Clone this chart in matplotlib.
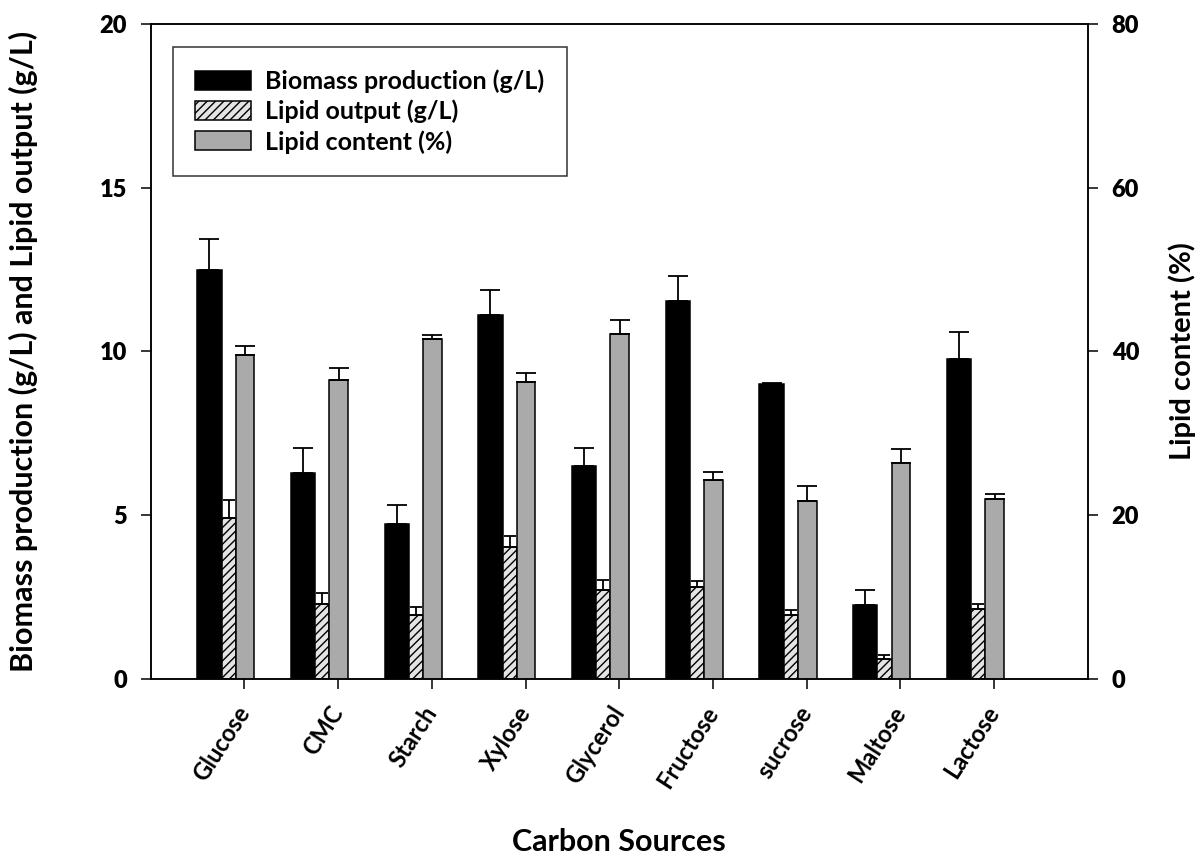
import matplotlib
matplotlib.use("Agg")
import matplotlib.pyplot as plt
import numpy as np

plt.rcParams['font.family'] = ['Lato', 'DejaVu Sans']
plt.rcParams['hatch.linewidth'] = 1.0

######### Data #########
categories = ['Glucose', 'CMC', 'Starch', 'Xylose', 'Glycerol',
              'Fructose', 'sucrose', 'Maltose', 'Lactose']
biomass = [12.48, 6.27, 4.73, 11.10, 6.50, 11.53, 9.01, 2.26, 9.76]
biomass_err = [0.96, 0.78, 0.57, 0.77, 0.56, 0.77, 0.02, 0.45, 0.83]
lipid_output = [4.92, 2.27, 1.96, 4.02, 2.72, 2.79, 1.94, 0.59, 2.14]
lipid_output_err = [0.53, 0.34, 0.23, 0.33, 0.31, 0.20, 0.17, 0.12, 0.13]
lipid_content = [39.5, 36.5, 41.5, 36.3, 42.1, 24.3, 21.7, 26.3, 21.9]
lipid_content_err = [1.2, 1.5, 0.5, 1.0, 1.7, 0.9, 1.9, 1.8, 0.7]
########################

x = np.arange(len(categories))
w_bio, w_lip, w_con = 0.26, 0.15, 0.20
x_bio = x - 0.504
x_lip = x_bio + w_bio
x_con = x_lip + w_lip

fig = plt.figure(figsize=(11.99, 8.55), dpi=100)
ax1 = fig.add_axes([0.1257, 0.2062, 0.9072 - 0.1257, 0.9719 - 0.2062])
ax2 = ax1.twinx()

lw = 1.1
b1 = ax1.bar(x_bio, biomass, w_bio, align='edge', color='black',
             edgecolor='black', linewidth=lw, label='Biomass production (g/L)')
b2 = ax1.bar(x_lip, lipid_output, w_lip, align='edge', color='#e4e4e4',
             edgecolor='black', hatch='////', linewidth=lw,
             label='Lipid output (g/L)')
b3 = ax2.bar(x_con, lipid_content, w_con, align='edge', color='#aaaaaa',
             edgecolor='black', linewidth=lw, label='Lipid content (%)')

zeros = np.zeros(len(x))
ax1.errorbar(x_bio + w_bio / 2, biomass, yerr=[zeros, biomass_err],
             fmt='none', ecolor='black', elinewidth=1.3, capsize=7, capthick=1.3)
ax1.errorbar(x_lip + w_lip / 2, lipid_output, yerr=[zeros, lipid_output_err],
             fmt='none', ecolor='black', elinewidth=1.3, capsize=4.5, capthick=1.3)
ax2.errorbar(x_con + w_con / 2, lipid_content, yerr=[zeros, lipid_content_err],
             fmt='none', ecolor='black', elinewidth=1.3, capsize=7, capthick=1.3)

ax1.set_xlim(-1, 9)
ax1.set_ylim(0, 20)
ax2.set_ylim(0, 80)
ax1.set_yticks([0, 5, 10, 15, 20])
ax2.set_yticks([0, 20, 40, 60, 80])

ax1.set_xticks(x)
ax1.set_xticklabels(categories, rotation=57, ha='right', va='center',
                    rotation_mode='anchor', fontsize=22, fontweight='bold')

for ax in (ax1, ax2):
    for s in ax.spines.values():
        s.set_linewidth(lw)
    ax.tick_params(direction='out', length=7.2, width=lw, labelsize=17)
ax1.tick_params(axis='y', pad=10)
ax2.tick_params(axis='y', pad=10)
ax1.tick_params(axis='x', pad=14)
for lab in ax1.get_yticklabels() + ax2.get_yticklabels():
    lab.set_fontweight('heavy')

ax1.set_ylabel('Biomass production (g/L) and Lipid output (g/L)',
               fontsize=22, fontweight='bold', labelpad=44)
ax2.set_ylabel('Lipid content (%)', fontsize=21, fontweight='bold', labelpad=21)
ax1.set_xlabel('Carbon Sources', fontsize=22, fontweight='bold')
ax1.xaxis.set_label_coords(0.5, -0.228)

leg = ax2.legend(handles=[b1, b2, b3], loc='upper left',
                 bbox_to_anchor=(0.0235, 0.9644), fontsize=18,
                 frameon=True, fancybox=False, edgecolor='black',
                 handlelength=2.25, handleheight=0.8, labelspacing=0.26,
                 borderpad=0.9, handletextpad=0.55, borderaxespad=0)
leg.get_frame().set_linewidth(lw)
for t in leg.get_texts():
    t.set_fontweight('bold')

fig.savefig('out.png', dpi=100)
